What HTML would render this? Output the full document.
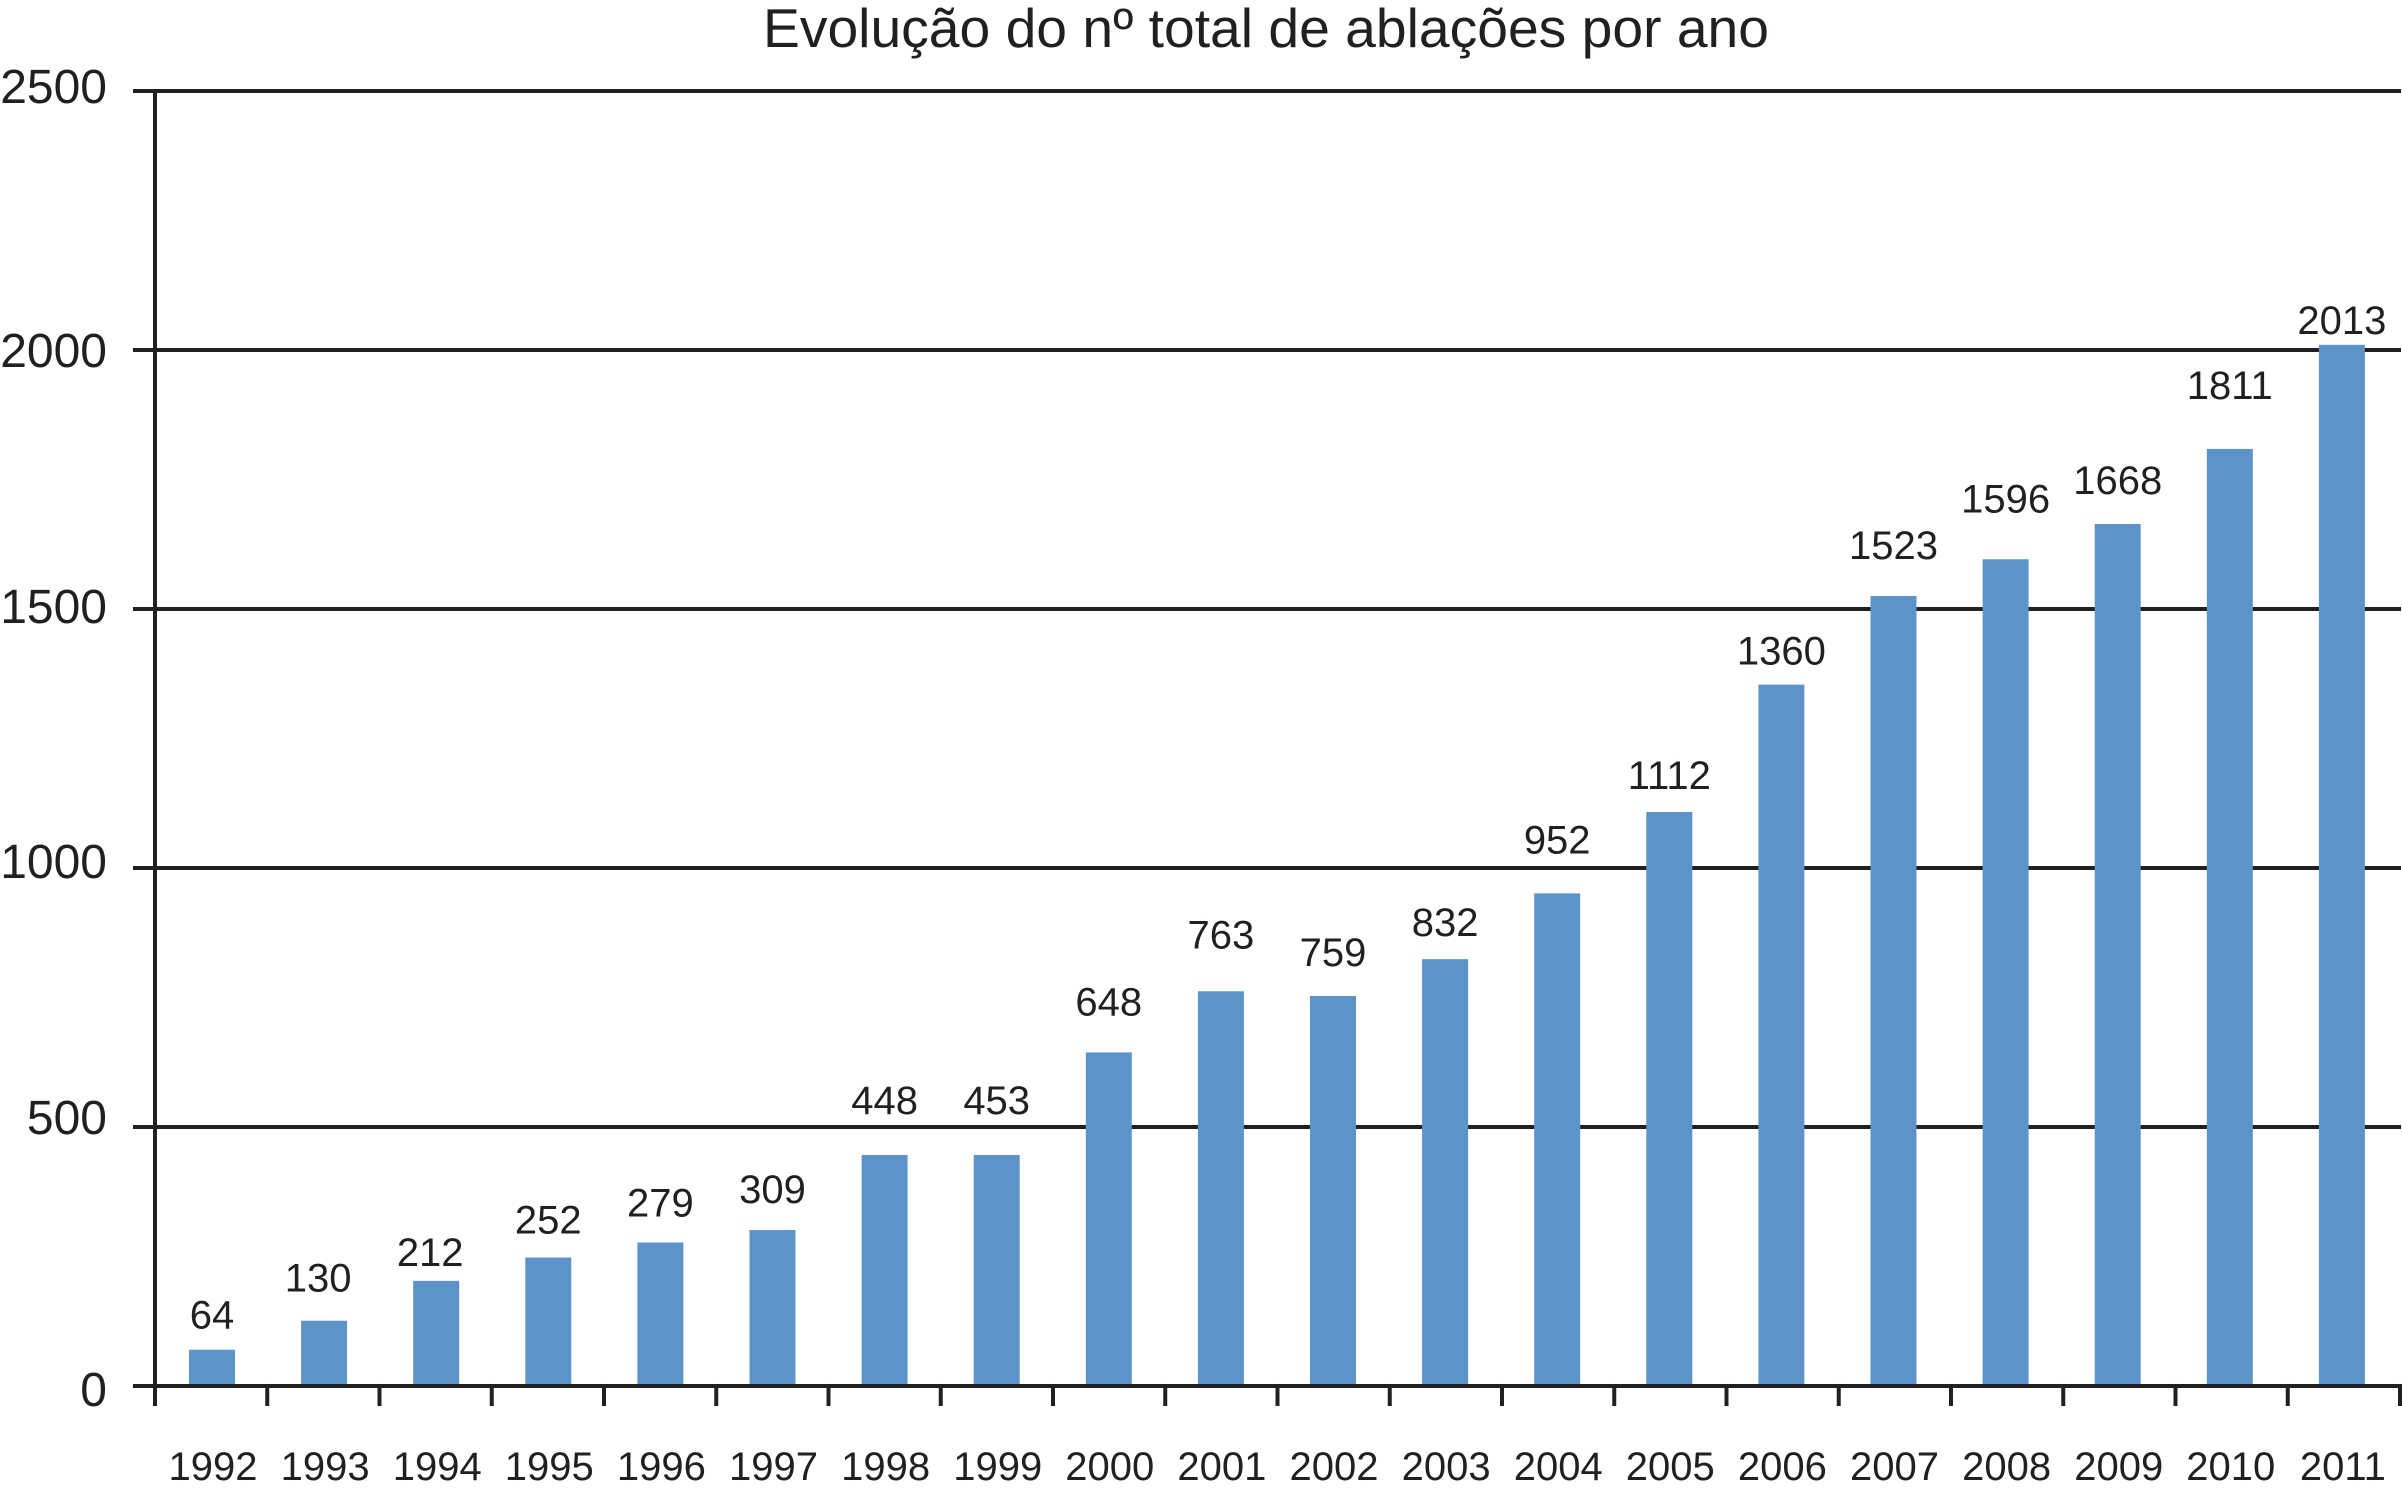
<!DOCTYPE html>
<html lang="pt">
<head>
<meta charset="utf-8">
<title>Evolução do nº total de ablações por ano</title>
<style>
html,body{margin:0;padding:0;background:#fff;}
svg{display:block;}
text{font-family:"Liberation Sans",sans-serif;fill:#231f20;}
</style>
</head>
<body>
<svg id="chart" xmlns="http://www.w3.org/2000/svg" width="2402" height="1500" viewBox="0 0 2402 1500">
  <rect x="0" y="0" width="2402" height="1500" fill="#ffffff"/>
  <text x="1266" y="47" font-size="55" text-anchor="middle" textLength="1006" lengthAdjust="spacingAndGlyphs">Evolução do nº total de ablações por ano</text>
</svg>
<script>
const years = [1992,1993,1994,1995,1996,1997,1998,1999,2000,2001,2002,2003,2004,2005,2006,2007,2008,2009,2010,2011];
const barValues = [70,126,203,248,277,301,446,446,644,762,753,824,951,1108,1354,1525,1596,1664,1809,2010];
const printedValues = [64,130,212,252,279,309,448,453,648,763,759,832,952,1112,1360,1523,1596,1668,1811,2013];
const yTicks = [0,500,1000,1500,2000,2500];

const labelLift = [35,43,29,38,40,41,55,55,51,57,44,37,54,37,34,51,61,44,64,25];
const labelShift = [0,-6,-6,0,0,0,0,0,0,0,0,0,0,0,0,0,0,0,0,0];
const yTickShift = [20,7,10,14,17,12];

const svg = document.getElementById('chart');
const NS = 'http://www.w3.org/2000/svg';
const INK = '#231f20';
const BAR = '#5c93c8';

function yScale(v){ return 1386 - v * (1295 / 2500); }
function tickX(i){ return 155 + i * 112.25; }
function barCenter(i){ return 212 + i * 112.1; }

function make(tag, attrs, text){
  const el = document.createElementNS(NS, tag);
  Object.keys(attrs).forEach(function(k){ el.setAttribute(k, attrs[k]); });
  if (text !== undefined) el.textContent = text;
  svg.appendChild(el);
  return el;
}

yTicks.forEach(function(t, i){
  if (t === 0) return;
  const line = make('line', {x1:133, x2:2401, y1:yScale(t), y2:yScale(t), stroke:INK, 'stroke-width':4});
  
  
});

years.forEach(function(year, i){
  const top = yScale(barValues[i]);
  const bar = make('rect', {x:barCenter(i) - 23, y:top, width:46, height:yScale(0) - top, fill:BAR});
  
  

  const label = make('text', {x:barCenter(i) + labelShift[i], y:top - labelLift[i] + 14, 'font-size':40, 'text-anchor':'middle'}, String(printedValues[i]));
  
  

  const cat = make('text', {x:barCenter(i) + 1, y:1480, 'font-size':40, 'text-anchor':'middle'}, String(year));
  
  
});

for (let i = 0; i <= years.length; i++) {
  const tick = make('line', {x1:tickX(i), x2:tickX(i), y1:1386, y2:1406, stroke:INK, 'stroke-width':4});
  
  
}

const baseline = make('line', {x1:133, x2:2402, y1:yScale(0), y2:yScale(0), stroke:INK, 'stroke-width':4});



const yAxis = make('line', {x1:155, x2:155, y1:yScale(2500), y2:1406, stroke:INK, 'stroke-width':4});



yTicks.forEach(function(t, i){
  const lab = make('text', {x:107, y:yScale(t) + yTickShift[i], 'font-size':48, 'text-anchor':'end'}, String(t));
  
  
});
</script>
</body>
</html>
